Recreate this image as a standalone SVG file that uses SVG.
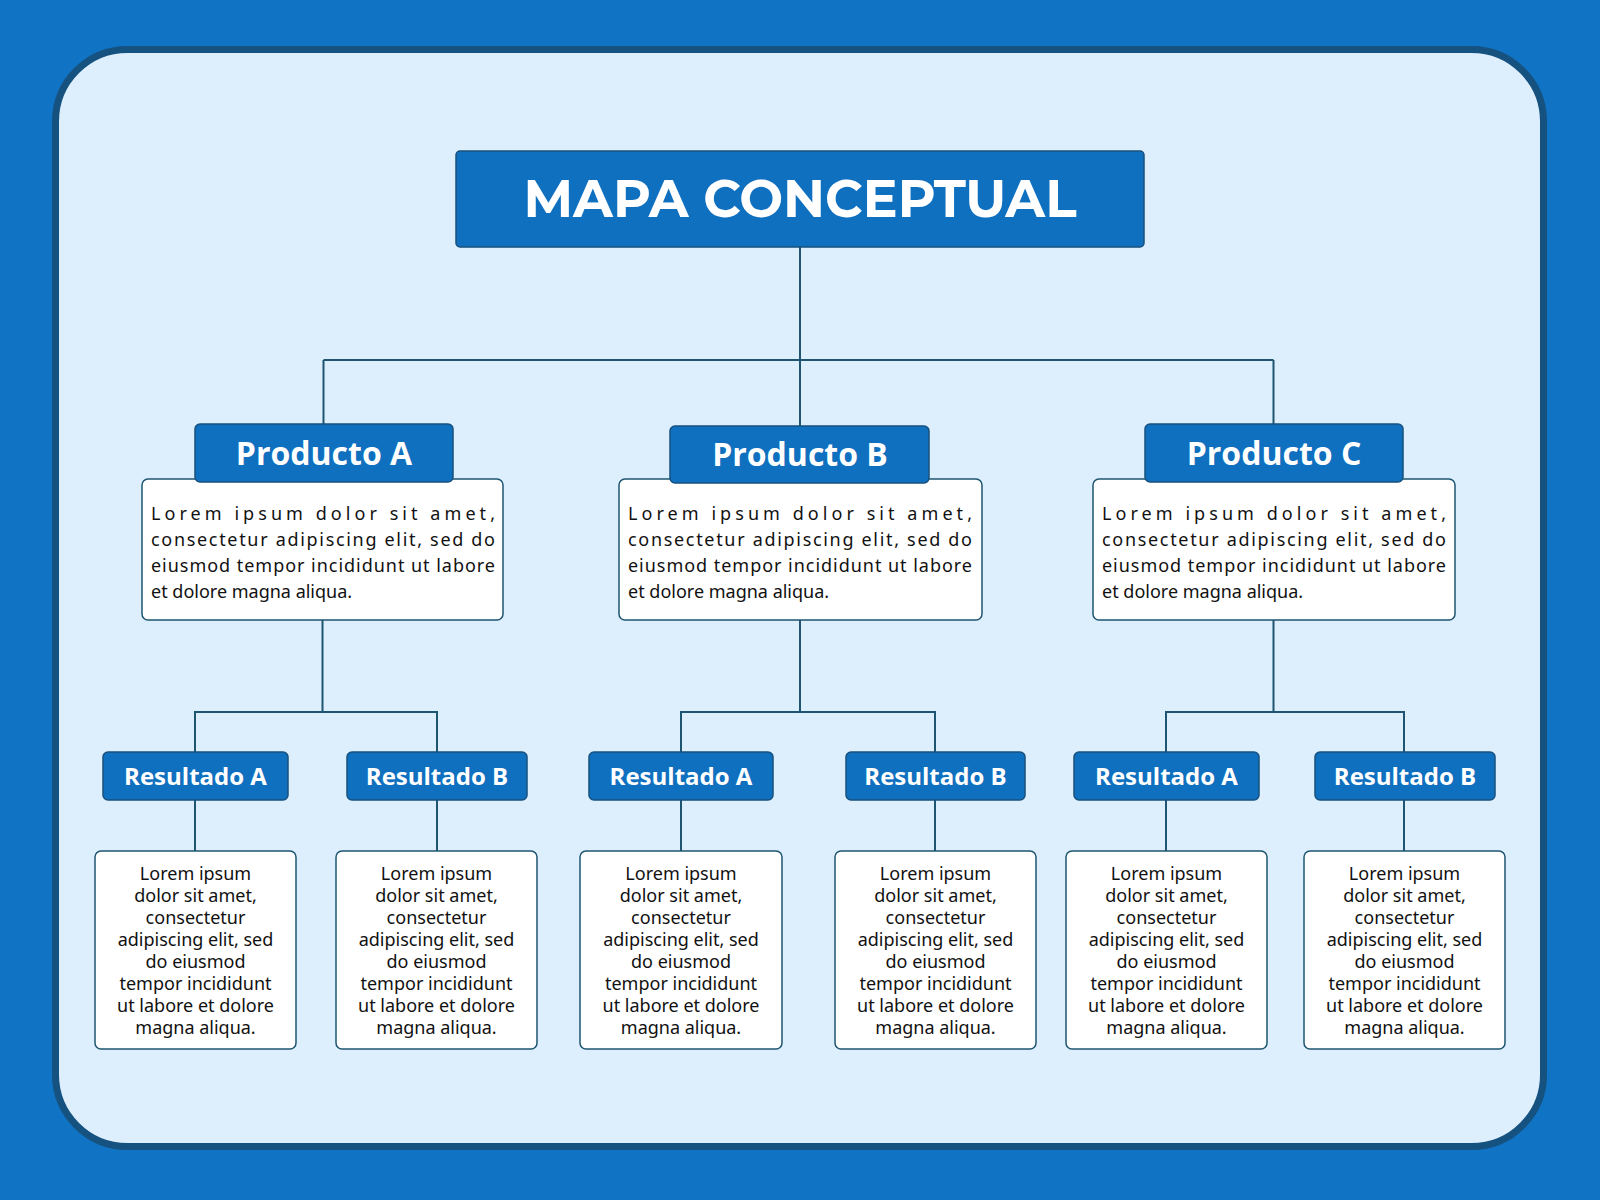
<svg xmlns="http://www.w3.org/2000/svg" width="1600" height="1200" viewBox="0 0 1600 1200">
<style>
.blue{fill:#1070C0;stroke:#17507C;stroke-width:1.5}
.white{fill:#fff;stroke:#1E5570;stroke-width:1.5}
.con{stroke:#1E5570;stroke-width:2;fill:none}
.t1{font-family:"Montserrat","DejaVu Sans","Liberation Sans",sans-serif;font-weight:bold;font-size:52px;fill:#fff;text-anchor:middle}
.t2{font-family:"Open Sans","Noto Sans",sans-serif;font-weight:bold;font-size:32px;fill:#fff;text-anchor:middle}
.t3{font-family:"Open Sans","Noto Sans",sans-serif;font-weight:bold;font-size:24px;fill:#fff;text-anchor:middle}
.b{font-family:"Noto Sans",sans-serif;font-size:18px;fill:#111}
.c{text-anchor:middle}
</style>
<rect width="1600" height="1200" fill="#1173C4"/>
<rect x="55.5" y="49.5" width="1488" height="1097" rx="72" fill="#DDEEFD" stroke="#16527F" stroke-width="7"/>
<g id="connectors" class="con">
<path d="M800 247V360M323.5 360H1273.5M323.5 360V424M800 360V426M1273.5 360V424"/>
<path d="M322.5 620V712M195 752V712H437V752M800 620V712M681 752V712H935V752M1273.5 620V712M1166 752V712H1404V752"/>
<path d="M195 800V851M437 800V851M681 800V851M935 800V851M1166 800V851M1404 800V851"/>
</g>
<g id="title"><rect class="blue" x="456" y="151" width="688" height="96" rx="4"/><text class="t1" x="800" y="217">MAPA CONCEPTUAL</text></g>
<g id="prodA"><rect class="white" x="142" y="479" width="361" height="141" rx="6"/><rect class="blue" x="195" y="424" width="258" height="58" rx="5"/><text class="t2" x="324" y="465">Producto A</text>
<text class="b"><tspan x="151" y="520" textLength="344" lengthAdjust="spacing">Lorem ipsum dolor sit amet,</tspan><tspan x="151" y="546" textLength="344" lengthAdjust="spacing">consectetur adipiscing elit, sed do</tspan><tspan x="151" y="572" textLength="344" lengthAdjust="spacing">eiusmod tempor incididunt ut labore</tspan><tspan x="151" y="598">et dolore magna aliqua.</tspan></text></g>
<g id="prodB"><rect class="white" x="619" y="479" width="363" height="141" rx="6"/><rect class="blue" x="670" y="426" width="259" height="57" rx="5"/><text class="t2" x="800" y="466">Producto B</text>
<text class="b"><tspan x="628" y="520" textLength="344" lengthAdjust="spacing">Lorem ipsum dolor sit amet,</tspan><tspan x="628" y="546" textLength="344" lengthAdjust="spacing">consectetur adipiscing elit, sed do</tspan><tspan x="628" y="572" textLength="344" lengthAdjust="spacing">eiusmod tempor incididunt ut labore</tspan><tspan x="628" y="598">et dolore magna aliqua.</tspan></text></g>
<g id="prodC"><rect class="white" x="1093" y="479" width="362" height="141" rx="6"/><rect class="blue" x="1145" y="424" width="258" height="58" rx="5"/><text class="t2" x="1274" y="465">Producto C</text>
<text class="b"><tspan x="1102" y="520" textLength="344" lengthAdjust="spacing">Lorem ipsum dolor sit amet,</tspan><tspan x="1102" y="546" textLength="344" lengthAdjust="spacing">consectetur adipiscing elit, sed do</tspan><tspan x="1102" y="572" textLength="344" lengthAdjust="spacing">eiusmod tempor incididunt ut labore</tspan><tspan x="1102" y="598">et dolore magna aliqua.</tspan></text></g>
<g id="resA1"><rect class="blue" x="103" y="752" width="185" height="48" rx="5"/><text class="t3" x="195.5" y="785">Resultado A</text></g>
<g id="resB1"><rect class="blue" x="347" y="752" width="180" height="48" rx="5"/><text class="t3" x="437" y="785">Resultado B</text></g>
<g id="resA2"><rect class="blue" x="589" y="752" width="184" height="48" rx="5"/><text class="t3" x="681" y="785">Resultado A</text></g>
<g id="resB2"><rect class="blue" x="846" y="752" width="179" height="48" rx="5"/><text class="t3" x="935.5" y="785">Resultado B</text></g>
<g id="resA3"><rect class="blue" x="1074" y="752" width="185" height="48" rx="5"/><text class="t3" x="1166.5" y="785">Resultado A</text></g>
<g id="resB3"><rect class="blue" x="1315" y="752" width="180" height="48" rx="5"/><text class="t3" x="1405" y="785">Resultado B</text></g>
<defs>
<g id="lorem"><text class="b c"><tspan x="0" y="880">Lorem ipsum</tspan><tspan x="0" y="902">dolor sit amet,</tspan><tspan x="0" y="924">consectetur</tspan><tspan x="0" y="946">adipiscing elit, sed</tspan><tspan x="0" y="968">do eiusmod</tspan><tspan x="0" y="990">tempor incididunt</tspan><tspan x="0" y="1012">ut labore et dolore</tspan><tspan x="0" y="1034">magna aliqua.</tspan></text></g>
</defs>
<g id="desc1"><rect class="white" x="95" y="851" width="201" height="198" rx="6"/><use href="#lorem" x="195.5"/></g>
<g id="desc2"><rect class="white" x="336" y="851" width="201" height="198" rx="6"/><use href="#lorem" x="436.5"/></g>
<g id="desc3"><rect class="white" x="580" y="851" width="202" height="198" rx="6"/><use href="#lorem" x="681"/></g>
<g id="desc4"><rect class="white" x="835" y="851" width="201" height="198" rx="6"/><use href="#lorem" x="935.5"/></g>
<g id="desc5"><rect class="white" x="1066" y="851" width="201" height="198" rx="6"/><use href="#lorem" x="1166.5"/></g>
<g id="desc6"><rect class="white" x="1304" y="851" width="201" height="198" rx="6"/><use href="#lorem" x="1404.5"/></g>
</svg>
